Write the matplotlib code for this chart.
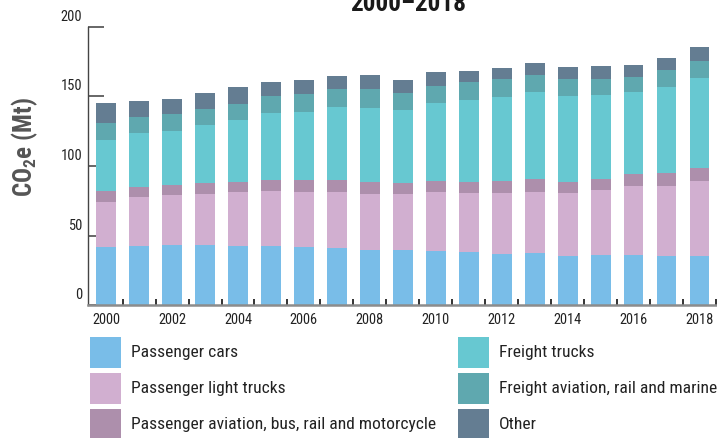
import matplotlib
matplotlib.use("Agg")
import matplotlib.pyplot as plt
from matplotlib.patches import Rectangle
from matplotlib.ticker import FixedLocator, NullFormatter
import matplotlib.transforms as mtransforms
from matplotlib import font_manager
import numpy as np

years = list(range(2000, 2019))

series_names = [
    "Passenger cars",
    "Passenger light trucks",
    "Passenger aviation, bus, rail and motorcycle",
    "Freight trucks",
    "Freight aviation, rail and marine",
    "Other",
]

passenger_cars = [41.7, 42.4, 43.2, 43.2, 42.4, 42.4, 41.7, 41.0, 39.6, 39.6,
                  38.8, 38.1, 36.7, 37.4, 35.3, 36.0, 36.0, 35.3, 35.3]
passenger_light_trucks = [32.4, 35.3, 35.9, 36.7, 38.9, 39.6, 39.6, 40.3, 40.3, 40.3,
                          42.5, 42.5, 43.9, 43.9, 45.3, 46.7, 49.6, 50.3, 53.9]
passenger_other_modes = [7.9, 7.2, 7.2, 7.9, 7.2, 7.9, 8.6, 8.6, 8.6, 7.9,
                         7.9, 7.9, 8.6, 9.3, 7.9, 7.9, 8.6, 9.4, 9.4]
freight_trucks = [36.7, 38.8, 38.9, 41.7, 44.6, 48.2, 48.9, 52.5, 53.2, 52.5,
                  56.1, 59.0, 60.4, 62.6, 61.9, 60.5, 59.0, 61.8, 64.7]
freight_other_modes = [12.2, 11.6, 12.2, 11.5, 11.5, 12.3, 13.0, 13.0, 13.7, 12.2,
                       12.3, 12.9, 13.0, 12.3, 12.2, 11.5, 10.8, 12.3, 12.2]
other = [14.4, 11.5, 10.8, 11.5, 12.2, 10.0, 10.1, 9.3, 10.1, 9.4,
         10.0, 7.9, 7.9, 8.6, 8.6, 9.3, 8.7, 8.6, 10.1]

series_values = [passenger_cars, passenger_light_trucks, passenger_other_modes,
                 freight_trucks, freight_other_modes, other]

colors = ["#79bde8", "#d1afd0", "#ad8fac", "#67c8d1", "#5fa8af", "#647d92"]

y_ticks = [0, 50, 100, 150, 200]
x_tick_labels = [2000, 2002, 2004, 2006, 2008, 2010, 2012, 2014, 2016, 2018]

# pick the narrowest sans family on the system
ttf = font_manager.fontManager.ttflist
names = {f.name for f in ttf}
FONT, STRETCH = None, "normal"
for cand in ["Liberation Sans Narrow", "Roboto Condensed", "Open Sans Condensed",
             "Nimbus Sans Narrow", "Arial Narrow"]:
    if cand in names:
        FONT = cand
        break
if FONT is None:
    if any(f.name == "DejaVu Sans" and "condensed" in str(f.stretch) for f in ttf):
        FONT, STRETCH = "DejaVu Sans", "condensed"
    elif "Roboto" in names:
        FONT = "Roboto"
    else:
        FONT = "DejaVu Sans"

plt.rcParams["font.family"] = [FONT, "DejaVu Sans"]
plt.rcParams["font.stretch"] = STRETCH
plt.rcParams["mathtext.fontset"] = "custom"
plt.rcParams["mathtext.rm"] = FONT
plt.rcParams["mathtext.bf"] = FONT + ":bold"

W, H = 717, 438
fig = plt.figure(figsize=(W / 100, H / 100), dpi=100)
renderer = fig.canvas.get_renderer()


def fit_size(text, target_px, weight="normal", base=20.0):
    t = fig.text(0, 0, text, fontsize=base, fontweight=weight)
    w = t.get_window_extent(renderer).width
    t.remove()
    return base * target_px / w


legend_fs = fit_size(series_names[2], 303)
xtick_fs = fit_size("2000", 28.5)
ytick_fs = fit_size("200", 21.5)
title_fs = fit_size("2000–2018", 116, weight="bold")
ylabel_fs = fit_size(r"CO$_\mathbf{2}$e (Mt)", 100, weight="bold")

ax = fig.add_axes([88 / W, (H - 305) / H, (W - 88) / W, 278 / H])

bottom = np.zeros(len(years))
for vals, col in zip(series_values, colors):
    ax.bar(years, vals, bottom=bottom, width=0.6, color=col, linewidth=0, zorder=2)
    bottom += np.array(vals)

ax.set_xlim(1999.45, 2018.53)
ax.set_ylim(0, 200)

for side in ("top", "right"):
    ax.spines[side].set_visible(False)
ax.spines["left"].set_color("#444444")
ax.spines["left"].set_linewidth(1.0)
ax.spines["bottom"].set_color("#8c8c8c")
ax.spines["bottom"].set_linewidth(1.8)

ax.set_yticks(y_ticks)
ax.tick_params(axis="y", direction="in", length=11.5, width=1.4, color="#666666",
               labelsize=ytick_fs, labelcolor="#222222", pad=4)
# y labels sit above their tick lines
shift = mtransforms.ScaledTranslation(0, 11.5 / 100, fig.dpi_scale_trans)
for lab in ax.get_yticklabels():
    lab.set_transform(lab.get_transform() + shift)

ax.set_xticks(x_tick_labels)
ax.set_xticklabels([str(y) for y in x_tick_labels])
ax.xaxis.set_minor_locator(FixedLocator([y + 0.5 for y in years]))
ax.xaxis.set_minor_formatter(NullFormatter())
ax.tick_params(axis="x", which="major", length=0, labelsize=xtick_fs,
               labelcolor="#222222", pad=6)
ax.tick_params(axis="x", which="minor", direction="in", length=4.5, width=1.4,
               color="#333333")

fig.text(25 / W, 1 - 147 / H, r"CO$_\mathbf{2}$e (Mt)", rotation=90,
         ha="center", va="center", fontsize=ylabel_fs, fontweight="bold",
         color="#555555")

fig.text(408 / W, 1 - 11 / H, "2000–2018", ha="center", va="baseline",
         fontsize=title_fs, fontweight="bold", color="#1a1a1a")

# legend: two columns of square swatches
col_x = [90, 458]
row_y = [337, 373, 409]
for i, (name, col) in enumerate(zip(series_names, colors)):
    cx = col_x[i // 3]
    ry = row_y[i % 3]
    fig.add_artist(Rectangle((cx / W, 1 - (ry + 31) / H), 31 / W, 31 / H,
                             transform=fig.transFigure, facecolor=col,
                             edgecolor="none"))
    fig.text((cx + 41) / W, 1 - (ry + 15.5) / H, name, ha="left", va="center",
             fontsize=legend_fs, color="#222222")

fig.savefig("out.png", dpi=100)
